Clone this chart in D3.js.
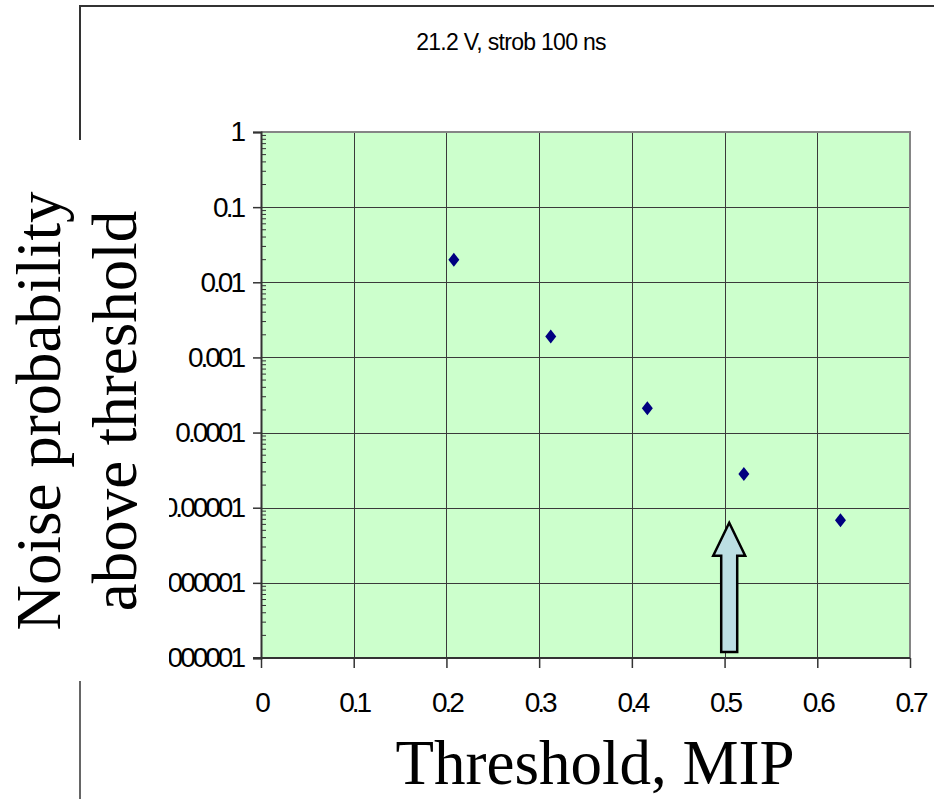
<!DOCTYPE html>
<html><head><meta charset="utf-8">
<script src="https://cdn.jsdelivr.net/npm/d3@7/dist/d3.min.js"></script>
<style>
html,body{margin:0;padding:0;background:#fff;}
svg{display:block;}
</style></head>
<body>
<script>
// ---- data ----
const title = "21.2 V, strob 100 ns";
const xLabel = "Threshold, MIP";
const yLabelLines = ["Noise probability", "above threshold"];
const thresholds = [0.208, 0.3125, 0.4167, 0.5208, 0.625];
const noiseProb = [0.0199, 0.0019, 0.00021, 0.000028, 0.0000068];
const xTicks = [0, 0.1, 0.2, 0.3, 0.4, 0.5, 0.6, 0.7];
const xTickLabels = ["0", "0.1", "0.2", "0.3", "0.4", "0.5", "0.6", "0.7"];
const yTicks = [1, 0.1, 0.01, 0.001, 0.0001, 0.00001, 0.000001, 0.0000001];
const yTickLabels = ["1", "0.1", "0.01", "0.001", "0.0001", "0.00001", "0.000001", "0.0000001"];
const arrowX = [0.505];
const arrowFrom = [1.2e-7];
const arrowTo = [6.3e-6];

// ---- layout ----
const W = 934, H = 799;
const svg = d3.select("body").append("svg").attr("width", W).attr("height", H);

const x = d3.scaleLinear().domain([0, 0.7]).range([261, 910]);
const y = d3.scaleLog().domain([1e-7, 1]).range([658, 132]);

// outer frame
svg.append("path").attr("d", "M80,140 L80,6 L934,6").attr("fill", "none").attr("stroke", "#333").attr("stroke-width", 2);
svg.append("line").attr("x1", 80).attr("x2", 80).attr("y1", 681).attr("y2", 799).attr("stroke", "#333").attr("stroke-width", 1.5);

// plot area
svg.append("rect").attr("x", x(0)).attr("y", y(1)).attr("width", x(0.7) - x(0)).attr("height", y(1e-7) - y(1)).attr("fill", "#CCFFCC");

// gridlines
svg.append("g").selectAll("line").data(xTicks.slice(1, -1)).join("line")
  .attr("x1", d => Math.round(x(d)) + 0.5).attr("x2", d => Math.round(x(d)) + 0.5)
  .attr("y1", y(1)).attr("y2", y(1e-7)).attr("stroke", "#3a3a3a").attr("stroke-width", 1);
svg.append("g").selectAll("line").data(yTicks.slice(1, -1)).join("line")
  .attr("x1", x(0)).attr("x2", x(0.7))
  .attr("y1", d => Math.round(y(d)) + 0.5).attr("y2", d => Math.round(y(d)) + 0.5)
  .attr("stroke", "#3a3a3a").attr("stroke-width", 1);

// top and right border
svg.append("path").attr("d", `M${x(0)},${y(1)} L${x(0.7)},${y(1)} L${x(0.7)},${y(1e-7)}`)
  .attr("fill", "none").attr("stroke", "#858585").attr("stroke-width", 2);

// y axis
const yAxisG = svg.append("g").attr("transform", `translate(${x(0)},0)`);
const yAxis = d3.axisLeft(y).tickValues(yTicks).tickFormat((d, i) => yTickLabels[i]).tickSize(8).tickPadding(10);
yAxisG.call(yAxis);
// minor ticks inside
const minors = [];
for (let e = -7; e < 0; e++) for (let m = 2; m <= 9; m++) minors.push(m * Math.pow(10, e));
yAxisG.append("g").selectAll("line").data(minors).join("line")
  .attr("x1", 0).attr("x2", 5).attr("y1", d => y(d)).attr("y2", d => y(d))
  .attr("stroke", "#333").attr("stroke-width", 1);

// x axis
const xAxisG = svg.append("g").attr("transform", `translate(0,${y(1e-7)})`);
xAxisG.call(d3.axisBottom(x).tickValues(xTicks).tickFormat((d, i) => xTickLabels[i]).tickSize(10).tickPadding(24));

[yAxisG, xAxisG].forEach(g => {
  g.select(".domain").attr("stroke", "#333").attr("stroke-width", 2);
  g.selectAll(".tick line").attr("stroke", "#333").attr("stroke-width", 1.5);
  g.selectAll(".tick text").attr("font-family", "Liberation Sans, Arial, sans-serif")
    .attr("font-size", 28).attr("fill", "#000").attr("letter-spacing", -3);
});
xAxisG.select(".domain").attr("d", `M${x(0) - 8},0H${x(0.7)}`);

// points
svg.append("g").selectAll("path").data(thresholds).join("path")
  .attr("transform", (d, i) => `translate(${x(d)},${y(noiseProb[i])})`)
  .attr("d", "M0,-7 L5.5,0 L0,7 L-5.5,0 Z")
  .attr("fill", "#000080");

// arrow annotation
arrowX.forEach((ax, i) => {
  const cx = x(ax), yb = y(arrowFrom[i]), yt = y(arrowTo[i]);
  const hw = 16, sw = 8, hh = 33;
  svg.append("path")
    .attr("d", `M${cx},${yt} L${cx + hw},${yt + hh} L${cx + sw},${yt + hh} L${cx + sw},${yb} L${cx - sw},${yb} L${cx - sw},${yt + hh} L${cx - hw},${yt + hh} Z`)
    .attr("fill", "#BCDFE3").attr("stroke", "#000").attr("stroke-width", 2.5).attr("stroke-linejoin", "miter");
});

// title
svg.append("text").attr("x", 511).attr("y", 50).attr("text-anchor", "middle")
  .attr("font-family", "Liberation Sans, Arial, sans-serif").attr("font-size", 23).attr("letter-spacing", -0.7)
  .text(title);

// y label with white background
svg.append("rect").attr("x", 0).attr("y", 140).attr("width", 169).attr("height", 541).attr("fill", "#fff");
const yl = svg.append("text").attr("transform", "translate(0,411) rotate(-90)")
  .attr("text-anchor", "middle").attr("font-family", "Liberation Serif, Times New Roman, serif").attr("font-size", 63);
yl.append("tspan").attr("x", 0).attr("y", 60).text(yLabelLines[0]);
yl.append("tspan").attr("x", 0).attr("y", 136).text(yLabelLines[1]);

// x label
svg.append("text").attr("x", 595).attr("y", 784).attr("text-anchor", "middle")
  .attr("font-family", "Liberation Serif, Times New Roman, serif").attr("font-size", 63)
  .text(xLabel);
</script>
</body></html>
